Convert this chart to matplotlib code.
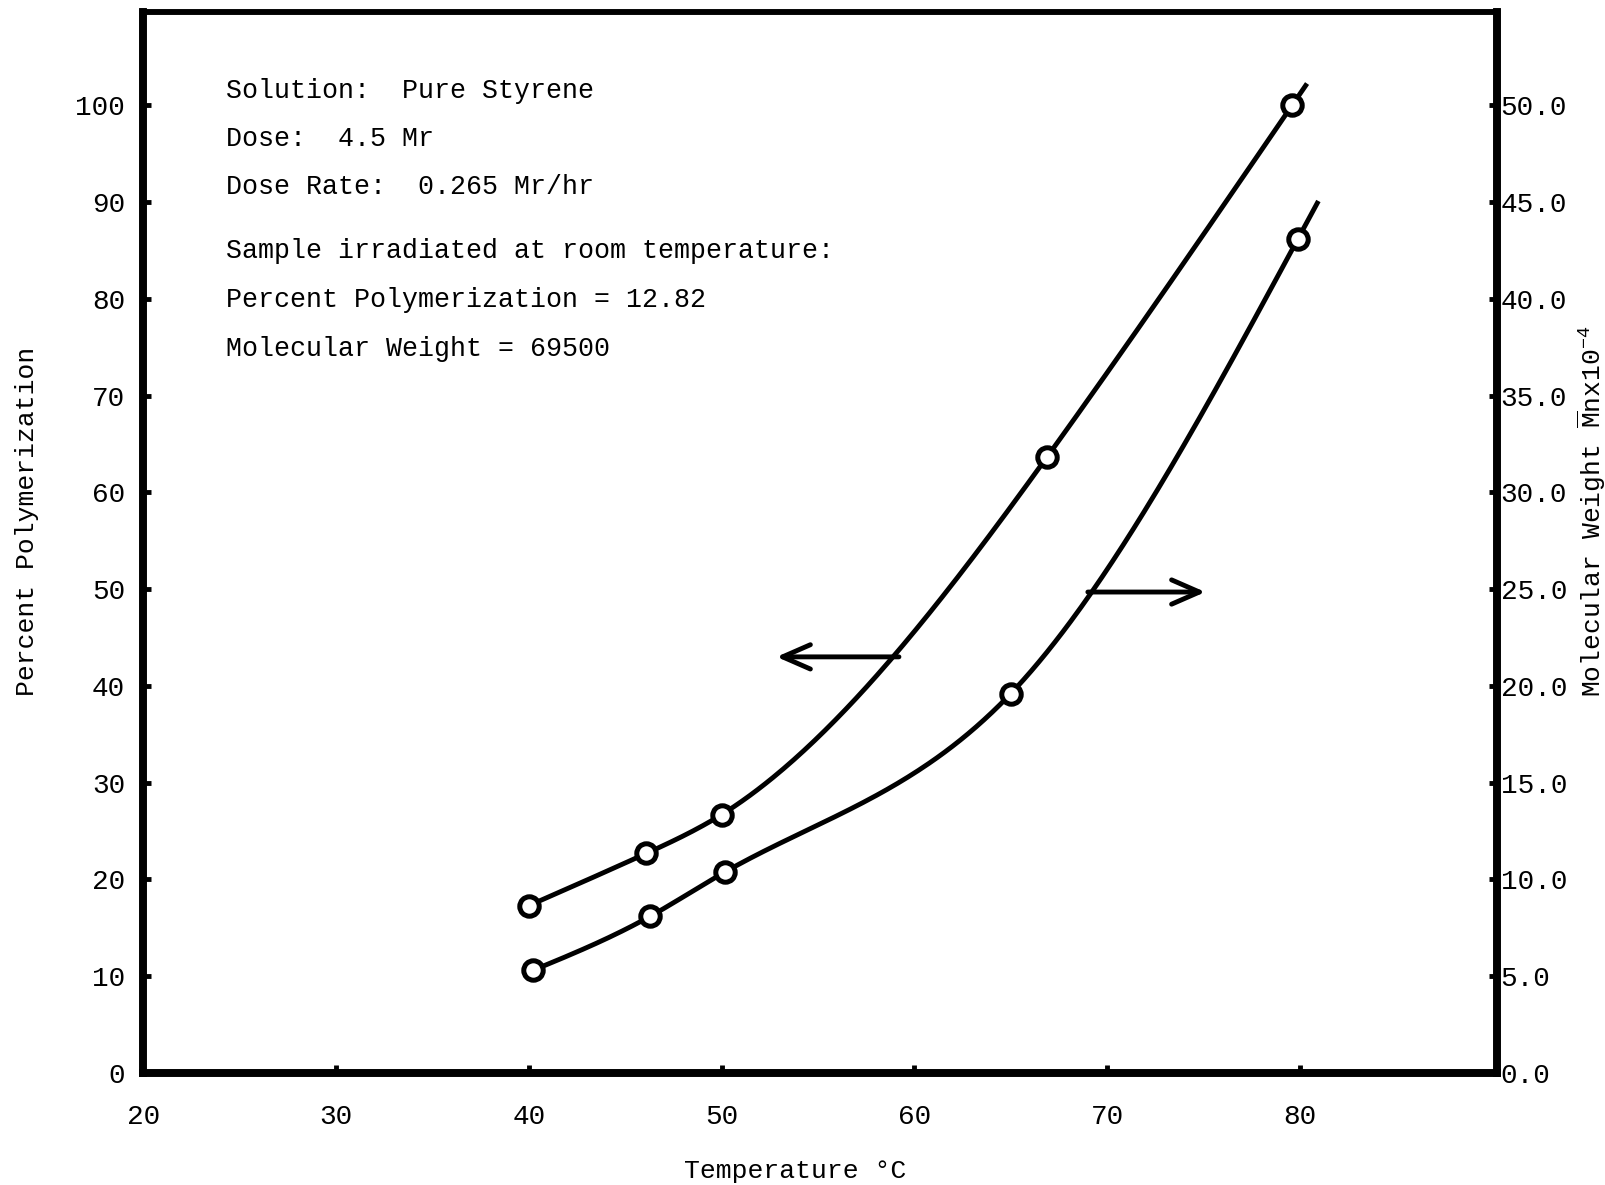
import numpy as np
import matplotlib.pyplot as plt

plt.rcParams['font.family'] = ['Liberation Mono', 'DejaVu Sans Mono']
plt.rcParams['mathtext.fontset'] = 'custom'
plt.rcParams['mathtext.rm'] = 'Liberation Mono'
plt.rcParams['mathtext.it'] = 'Liberation Mono'

# percent polymerization (left axis)
temp_pp = [40.0, 46.1, 50.0, 66.9, 79.6]
pct_poly = [17.3, 22.7, 26.7, 63.7, 100.0]

# molecular weight Mn x 10^-4 (right axis)
temp_mw = [40.2, 46.3, 50.2, 65.0, 79.9]
mol_wt = [5.3, 8.1, 10.4, 19.6, 43.1]

x_ticks = [20, 30, 40, 50, 60, 70, 80]
left_ticks = [0, 10, 20, 30, 40, 50, 60, 70, 80, 90, 100]
right_ticks = [0, 5, 10, 15, 20, 25, 30, 35, 40, 45, 50]

notas = ["Solution:  Pure Styrene",
         "Dose:  4.5 Mr",
         "Dose Rate:  0.265 Mr/hr",
         "Sample irradiated at room temperature:",
         "Percent Polymerization = 12.82",
         "Molecular Weight = 69500"]
notas_y = [101.5, 96.5, 91.5, 84.9, 79.9, 74.8]


# curva suave (spline cubico natural) por los puntos medidos
def spline(xk, yk, xs):
    xk = np.asarray(xk, float)
    yk = np.asarray(yk, float)
    n = len(xk)
    h = np.diff(xk)
    A = np.zeros((n, n))
    r = np.zeros(n)
    A[0, 0] = A[-1, -1] = 1
    for i in range(1, n - 1):
        A[i, i - 1] = h[i - 1]
        A[i, i] = 2 * (h[i - 1] + h[i])
        A[i, i + 1] = h[i]
        r[i] = 3 * ((yk[i + 1] - yk[i]) / h[i] - (yk[i] - yk[i - 1]) / h[i - 1])
    c = np.linalg.solve(A, r)
    b = (yk[1:] - yk[:-1]) / h - h * (2 * c[:-1] + c[1:]) / 3
    d = (c[1:] - c[:-1]) / (3 * h)
    idx = np.clip(np.searchsorted(xk, xs) - 1, 0, n - 2)
    dx = xs - xk[idx]
    return yk[idx] + b[idx] * dx + c[idx] * dx ** 2 + d[idx] * dx ** 3


fig = plt.figure(figsize=(16.05, 11.85), dpi=100)
ax = fig.add_axes([0.0893, 0.0945, 0.8431, 0.8951])
ax2 = ax.twinx()

ax.set_xlim(20, 90.2)
ax.set_ylim(0, 109.6)
ax2.set_ylim(0, 109.6 / 2)

# curva de polimerizacion
xs1 = np.linspace(temp_pp[0], temp_pp[-1] + 0.7, 300)
ax.plot(xs1, spline(temp_pp, pct_poly, xs1), color='black', lw=3.5, zorder=3)
ax.plot(temp_pp, pct_poly, 'o', ms=14, mew=3.6, mec='black', mfc='white', zorder=4)

# curva de peso molecular
xs2 = np.linspace(temp_mw[0], temp_mw[-1] + 1.0, 300)
ax2.plot(xs2, spline(temp_mw, mol_wt, xs2), color='black', lw=3.5, zorder=3)
ax2.plot(temp_mw, mol_wt, 'o', ms=14, mew=3.6, mec='black', mfc='white', zorder=4)

# flechas indicando el eje de cada curva
flecha = dict(arrowstyle='->,head_length=0.8,head_width=0.35', mutation_scale=25,
              color='black', lw=3.5, shrinkA=0, shrinkB=0)
ax.annotate('', xy=(52.85, 43.0), xytext=(59.2, 43.0), arrowprops=flecha)
ax2.annotate('', xy=(75.1, 24.85), xytext=(69.0, 24.85), arrowprops=flecha)

for t, yy in zip(notas, notas_y):
    ax.text(24.3, yy, t, fontsize=19.2, va='center', ha='left')

ax.set_xticks(x_ticks)
ax.set_yticks(left_ticks)
ax2.set_yticks(right_ticks)
ax2.set_yticklabels(['%.1f' % v for v in right_ticks])

ax.tick_params(axis='x', direction='in', length=6, width=3.5, pad=22, labelsize=20)
ax.tick_params(axis='y', direction='in', length=6, width=3.5, pad=13, labelsize=20)
ax2.tick_params(axis='y', direction='in', length=6, width=3.5, pad=3, labelsize=20)

for a in (ax, ax2):
    for s in ('left', 'right', 'bottom'):
        a.spines[s].set_linewidth(5.5)
    a.spines['top'].set_linewidth(4)

ax.set_xlabel('Temperature °C', fontsize=19)
ax.xaxis.set_label_coords(0.482, -0.081)
ax.set_ylabel('Percent Polymerization', fontsize=19)
ax.yaxis.set_label_coords(-0.077, 0.52)
ax2.set_ylabel(r'Molecular Weight $\overline{\mathrm{M}}$nx10$^{-4}$', fontsize=19)
ax2.yaxis.set_label_coords(1.058, 0.53)

plt.savefig('out.png', dpi=100)
